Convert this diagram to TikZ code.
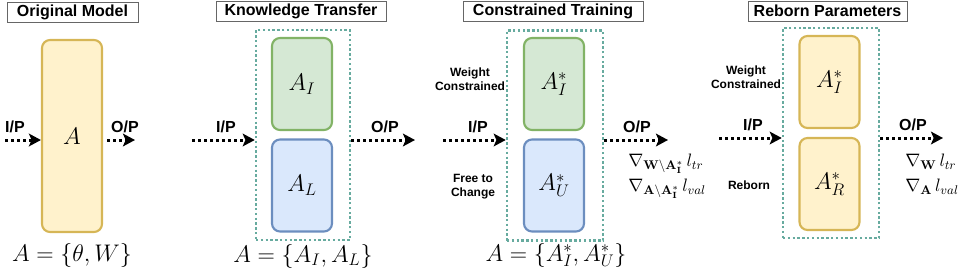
\RequirePackage{fix-cm}
\documentclass[tikz,border=0pt]{standalone}
\usepackage[no-math]{fontspec}
\setmainfont{Liberation Sans}
\usetikzlibrary{arrows.meta}

\definecolor{yellowfill}{HTML}{FFF2CC}
\definecolor{yellowline}{HTML}{D6B656}
\definecolor{greenfill}{HTML}{D5E8D4}
\definecolor{greenline}{HTML}{82B366}
\definecolor{bluefill}{HTML}{DAE8FC}
\definecolor{blueline}{HTML}{6C8EBF}
\definecolor{tealline}{HTML}{67AB9F}
\definecolor{titleline}{HTML}{666666}

\begin{document}
\begin{tikzpicture}[x=0.75pt, y=-0.75pt,
  titlebox/.style={draw=titleline, line width=0.75pt, fill=white, inner sep=0pt,
    minimum height=15pt, font=\bfseries\fontsize{12}{14}\selectfont},
  block/.style={rounded corners=6pt, line width=1.6pt, minimum width=45pt,
    minimum height=69pt, font=\fontsize{18}{20}\selectfont},
  yblock/.style={block, draw=yellowline, fill=yellowfill},
  gblock/.style={block, draw=greenline, fill=greenfill},
  bblock/.style={block, draw=blueline, fill=bluefill},
  group/.style={draw=tealline, line width=1.9pt, dash pattern=on 1.8pt off 1.8pt,
    minimum width=71pt, minimum height=157.5pt, inner sep=0pt},
  flow/.style={line width=2.25pt, dash pattern=on 2.25pt off 2.25pt,
    -{Stealth[length=9pt, width=9.5pt, inset=2pt]}},
  port/.style={font=\bfseries\fontsize{12}{14}\selectfont},
  side/.style={font=\bfseries\fontsize{9}{10.5}\selectfont, align=center},
  formula/.style={font=\fontsize{18}{20}\selectfont},
  grad/.style={anchor=west, inner sep=0pt, font=\fontsize{13.5}{15}\selectfont}]

  \useasboundingbox (0,0) rectangle (963,275);

  % -- Original model --
  \node[titlebox, minimum width=98.25pt] (omtitle) at (72.5,12.5) {Original Model};
  \node[yblock, minimum height=144pt] (A) at (72,136) {$A$};
  \coordinate (omin) at (5,140);
  \coordinate (omout) at (135,140);
  \draw[flow] (omin) -- (omin -| A.west);
  \draw[flow, shorten <=3pt] (omin -| A.east) -- (omout);
  \node[port] (omip) at (15,127) {I/P};
  \node[port] (omop) at (125,127) {O/P};
  \node[formula] (omeq) at (72,255) {$A=\{\theta,W\}$};

  % -- Knowledge transfer --
  \node[titlebox, minimum width=127.5pt] (kttitle) at (301,11) {Knowledge Transfer};
  \node[group, minimum width=70.5pt] (kt) at (303,135) {};
  \node[gblock] (ktAI) at (302,84) {$A_I$};
  \node[bblock] (ktAL) at (302,185.5) {$A_L$};
  \coordinate (ktin) at (192,140);
  \coordinate (ktout) at (415,140);
  \draw[flow] (ktin) -- (ktin -| kt.west);
  \draw[flow] (ktin -| kt.east) -- (ktout);
  \node[port] (ktip) at (226,127) {I/P};
  \node[port] (ktop) at (385,127) {O/P};
  \node[formula] (kteq) at (303,256) {$A=\{A_I,A_L\}$};

  % -- Constrained training --
  \node[titlebox, minimum width=135pt] (cttitle) at (553,11) {Constrained Training};
  \node[group, minimum width=72pt] (ct) at (555,135.5) {};
  \node[gblock] (ctAI) at (554,84) {$A_I^*$};
  \node[bblock] (ctAU) at (554,185.5) {$A_U^*$};
  \coordinate (ctin) at (443,140);
  \coordinate (ctout) at (668,140);
  \draw[flow] (ctin) -- (ctin -| ct.west);
  \draw[flow] (ctin -| ct.east) -- (ctout);
  \node[port] (ctip) at (478,127) {I/P};
  \node[port] (ctop) at (637,127) {O/P};
  \node[side] (ctfix) at (470,79) {Weight\\Constrained};
  \node[side] (ctfree) at (473,187) {Free to\\Change};
  \node[grad] (ctgw) at (628,164) {$\nabla_{\mathbf{W}\backslash\mathbf{A_I^*}}\,l_{tr}$};
  \node[grad] (ctga) at (628,189) {$\nabla_{\mathbf{A}\backslash\mathbf{A_I^*}}\,l_{val}$};
  \node[formula] (cteq) at (556,255) {$A=\{A_I^*,A_U^*\}$};

  % -- Reborn parameters --
  \node[titlebox, minimum width=119.25pt] (rptitle) at (827.5,11) {Reborn Parameters};
  \node[group, minimum width=72pt] (rp) at (831,133) {};
  \node[yblock] (rpAI) at (829.5,82) {$A_I^*$};
  \node[yblock] (rpAR) at (829.5,184) {$A_R^*$};
  \coordinate (rpin) at (719,138);
  \coordinate (rpout) at (943,138);
  \draw[flow] (rpin) -- (rpin -| rp.west);
  \draw[flow] (rpin -| rp.east) -- (rpout);
  \node[port] (rpip) at (753,125) {I/P};
  \node[port] (rpop) at (913,125) {O/P};
  \node[side] (rpfix) at (746,77) {Weight\\Constrained};
  \node[side] (rpnew) at (749,185) {Reborn};
  \node[grad] (rpgw) at (905,162) {$\nabla_{\mathbf{W}}\,l_{tr}$};
  \node[grad] (rpga) at (905,187) {$\nabla_{\mathbf{A}}\,l_{val}$};

\end{tikzpicture}
\end{document}
